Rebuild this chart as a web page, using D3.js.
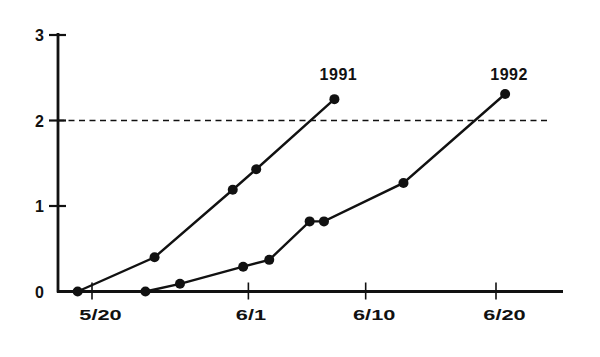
<!DOCTYPE html>
<html><head><meta charset="utf-8">
<script src="https://cdn.jsdelivr.net/npm/d3@7"></script>
<style>body{margin:0;background:#fff}svg{display:block}text{font-family:"Liberation Sans",Arial,sans-serif;font-weight:bold;fill:#111}</style>
</head><body><svg id="c" width="600" height="357"></svg>
<script>
// x = days after 5/20
const xTickDays = [0, 12, 21, 31];
const xTickLabels = ["5/20", "6/1", "6/10", "6/20"];
const yTicks = [0, 1, 2, 3];
const threshold = 2;
const days1991 = [-1.1, 4.8, 10.8, 12.6, 18.6];
const vals1991 = [0, 0.40, 1.19, 1.43, 2.25];
const days1992 = [4.1, 6.75, 11.6, 13.6, 16.7, 17.8, 23.9, 31.7];
const vals1992 = [0, 0.09, 0.29, 0.37, 0.82, 0.82, 1.27, 2.31];
const seriesNames = ["1991", "1992"];

const svg = d3.select("#c");
const x = d3.scaleLinear().domain([0, 31]).range([92, 496]);
const y = d3.scaleLinear().domain([0, 3]).range([291.5, 35]);
const x0 = 58, xEnd = 563;
const ink = "#111";

// dashed threshold
svg.append("line").attr("x1", x0).attr("x2", 550).attr("y1", y(threshold)).attr("y2", y(threshold))
  .attr("stroke", ink).attr("stroke-width", 1.6).attr("stroke-dasharray", "6,4.5");

// y axis
const yAxis = d3.axisLeft(y).tickValues(yTicks).tickSize(0).tickPadding(14).tickFormat(d3.format("d"));
const gy = svg.append("g").attr("transform", `translate(${x0},0)`).call(yAxis);
gy.select(".domain").remove();
gy.selectAll("text").attr("font-size", 16).attr("font-family", "Liberation Sans, Arial, sans-serif").attr("font-weight", "bold").attr("fill", ink).attr("dy", "0.36em");
svg.append("line").attr("x1", x0).attr("x2", x0).attr("y1", 33).attr("y2", y(0) + 1).attr("stroke", ink).attr("stroke-width", 2.8);
svg.selectAll(".yt").data(yTicks.filter(d => d > 0)).join("line").attr("class", "yt")
  .attr("x1", x0 - 9).attr("x2", x0 + 8).attr("y1", d => y(d)).attr("y2", d => y(d)).attr("stroke", ink).attr("stroke-width", 2.2);

// x axis
const xAxis = d3.axisBottom(x).tickValues(xTickDays).tickSize(0).tickPadding(0)
  .tickFormat((d, i) => xTickLabels[i]);
const gx = svg.append("g").attr("transform", `translate(0,${y(0)})`).call(xAxis);
gx.select(".domain").remove();
gx.selectAll("text").attr("font-size", 15).attr("font-family", "Liberation Sans, Arial, sans-serif").attr("font-weight", "bold").attr("fill", ink)
  .attr("y", 28.5).attr("dy", 0).attr("dx", (d, i) => i === 1 ? 2 : 8)
  .each(function() {
    const len = this.getComputedTextLength();
    d3.select(this).attr("textLength", len * 1.45).attr("lengthAdjust", "spacingAndGlyphs");
  });
svg.append("line").attr("x1", x0 - 1).attr("x2", xEnd).attr("y1", y(0)).attr("y2", y(0)).attr("stroke", ink).attr("stroke-width", 2.8);
svg.selectAll(".xt").data(xTickDays).join("line").attr("class", "xt")
  .attr("x1", d => x(d)).attr("x2", d => x(d)).attr("y1", y(0) - 9).attr("y2", y(0) + 8).attr("stroke", ink).attr("stroke-width", 1.6);

// series
const series = [
  {name: seriesNames[0], pts: days1991.map((d, i) => [d, vals1991[i]])},
  {name: seriesNames[1], pts: days1992.map((d, i) => [d, vals1992[i]])}
];
const line = d3.line().x(d => x(d[0])).y(d => y(d[1]));
series.forEach(s => {
  svg.append("path").attr("d", line(s.pts)).attr("fill", "none").attr("stroke", ink).attr("stroke-width", 2.4);
  svg.selectAll(null).data(s.pts).join("circle").attr("cx", d => x(d[0])).attr("cy", d => y(d[1])).attr("r", 5).attr("fill", ink);
  const last = s.pts[s.pts.length - 1];
  svg.append("text").attr("x", x(last[0]) + 4).attr("y", y(2.5) + 2).attr("text-anchor", "middle")
    .attr("font-size", 16).attr("letter-spacing", 0.5).text(s.name);
});
</script></body></html>
